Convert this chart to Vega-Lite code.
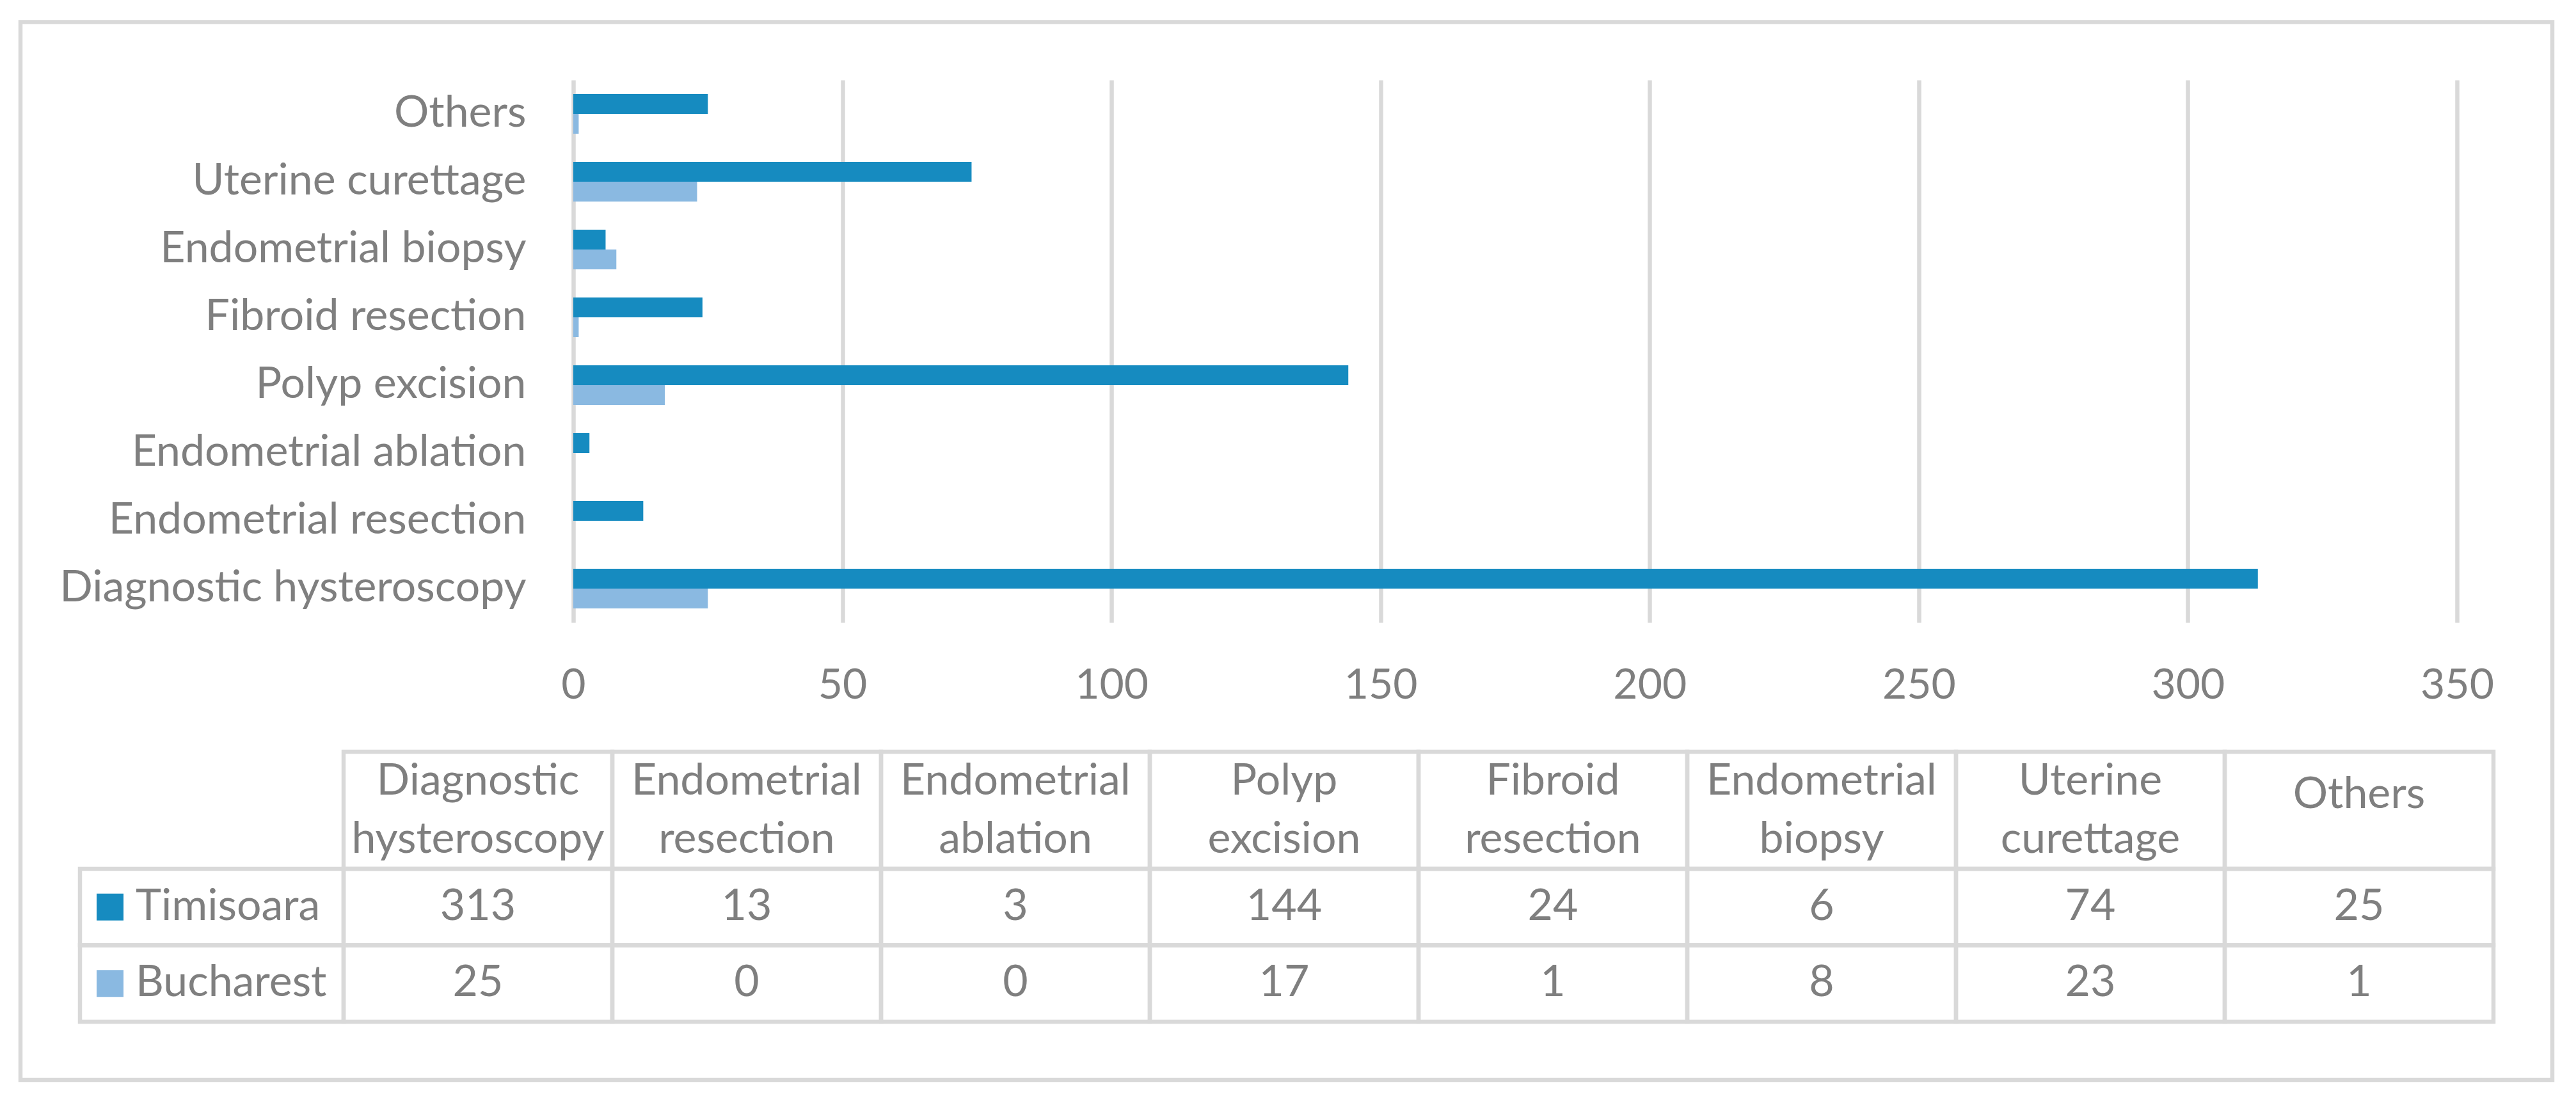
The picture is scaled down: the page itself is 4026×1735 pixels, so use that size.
{
  "$schema": "https://vega.github.io/schema/vega-lite/v6.json",
  "width": 2944,
  "height": 848,
  "autosize": {"type": "none"},
  "padding": {"left": 896, "top": 125, "right": 186, "bottom": 762},
  "background": "white",
  "config": {"view": {"stroke": null}, "font": "Lato"},
  "data": {
    "values": [
      {"category": "Diagnostic hysteroscopy", "city": "Timisoara", "value": 313},
      {"category": "Diagnostic hysteroscopy", "city": "Bucharest", "value": 25},
      {"category": "Endometrial resection", "city": "Timisoara", "value": 13},
      {"category": "Endometrial resection", "city": "Bucharest", "value": 0},
      {"category": "Endometrial ablation", "city": "Timisoara", "value": 3},
      {"category": "Endometrial ablation", "city": "Bucharest", "value": 0},
      {"category": "Polyp excision", "city": "Timisoara", "value": 144},
      {"category": "Polyp excision", "city": "Bucharest", "value": 17},
      {"category": "Fibroid resection", "city": "Timisoara", "value": 24},
      {"category": "Fibroid resection", "city": "Bucharest", "value": 1},
      {"category": "Endometrial biopsy", "city": "Timisoara", "value": 6},
      {"category": "Endometrial biopsy", "city": "Bucharest", "value": 8},
      {"category": "Uterine curettage", "city": "Timisoara", "value": 74},
      {"category": "Uterine curettage", "city": "Bucharest", "value": 23},
      {"category": "Others", "city": "Timisoara", "value": 25},
      {"category": "Others", "city": "Bucharest", "value": 1}
    ]
  },
  "resolve": {"scale": {"x": "independent", "y": "independent"}},
  "layer": [
    {
      "data": {"values": [{"frame": "outer"}]},
      "mark": {"type": "rect", "filled": false, "stroke": "#D9D9D9", "strokeWidth": 6.5},
      "encoding": {
        "x": {"datum": 0, "type": "quantitative", "scale": {"domain": [0, 1], "range": [-864, 3093], "nice": false, "zero": false}, "axis": null},
        "x2": {"datum": 1},
        "y": {"datum": 0, "type": "quantitative", "scale": {"domain": [0, 1], "range": [-90.5, 1563], "nice": false, "zero": false}, "axis": null},
        "y2": {"datum": 1}
      }
    },
    {
      "mark": {"type": "bar"},
      "encoding": {
        "y": {
          "field": "category", "type": "nominal",
          "scale": {"domain": ["Others", "Uterine curettage", "Endometrial biopsy", "Fibroid resection", "Polyp excision", "Endometrial ablation", "Endometrial resection", "Diagnostic hysteroscopy"], "paddingInner": 0.415, "paddingOuter": 0.2075},
          "axis": {"title": null, "ticks": false, "domain": false, "labelPadding": 74, "labelFontSize": 68, "labelColor": "#7F7F7F", "labelFont": "Lato", "labelLimit": 0}
        },
        "yOffset": {"field": "city", "type": "nominal", "scale": {"domain": ["Timisoara", "Bucharest"], "paddingInner": 0, "paddingOuter": 0}},
        "x": {
          "field": "value", "type": "quantitative",
          "scale": {"domain": [0, 350], "nice": false},
          "axis": {"title": null, "values": [0, 50, 100, 150, 200, 250, 300, 350], "grid": true, "gridColor": "#D9D9D9", "gridWidth": 6.5, "ticks": false, "domain": false, "labelFontSize": 66, "labelColor": "#7F7F7F", "labelFont": "Lato", "labelPadding": 66, "labelFlush": false}
        },
        "color": {"field": "city", "type": "nominal", "scale": {"domain": ["Timisoara", "Bucharest"], "range": ["#168BC0", "#8AB9E1"]}, "legend": null}
      }
    },
    {
      "mark": {"type": "rect", "filled": false, "stroke": "#D9D9D9", "strokeWidth": 6.5},
      "encoding": {
        "x": {"field": "category", "type": "nominal", "scale": {"domain": ["Diagnostic hysteroscopy", "Endometrial resection", "Endometrial ablation", "Polyp excision", "Fibroid resection", "Endometrial biopsy", "Uterine curettage", "Others"], "range": [-359, 3001], "paddingInner": 0, "paddingOuter": 0}, "axis": null},
        "y": {"field": "city", "type": "nominal", "scale": {"domain": ["Timisoara", "Bucharest"], "range": [1233, 1472], "paddingInner": 0, "paddingOuter": 0}, "axis": null}
      }
    },
    {
      "mark": {"type": "text", "fontSize": 68, "font": "Lato", "color": "#7F7F7F", "align": "center", "baseline": "middle"},
      "encoding": {
        "x": {"field": "category", "type": "nominal", "scale": {"domain": ["Diagnostic hysteroscopy", "Endometrial resection", "Endometrial ablation", "Polyp excision", "Fibroid resection", "Endometrial biopsy", "Uterine curettage", "Others"], "range": [-359, 3001], "paddingInner": 0, "paddingOuter": 0}, "axis": null},
        "y": {"field": "city", "type": "nominal", "scale": {"domain": ["Timisoara", "Bucharest"], "range": [1233, 1472], "paddingInner": 0, "paddingOuter": 0}, "axis": null},
        "text": {"field": "value", "type": "quantitative"}
      }
    },
    {
      "transform": [{"filter": "datum.city == 'Timisoara'"}],
      "mark": {"type": "rect", "filled": false, "stroke": "#D9D9D9", "strokeWidth": 6.5},
      "encoding": {
        "x": {"field": "category", "type": "nominal", "scale": {"domain": ["Diagnostic hysteroscopy", "Endometrial resection", "Endometrial ablation", "Polyp excision", "Fibroid resection", "Endometrial biopsy", "Uterine curettage", "Others"], "range": [-359, 3001], "paddingInner": 0, "paddingOuter": 0}, "axis": null},
        "y": {"datum": "header", "type": "nominal", "scale": {"domain": ["header"], "range": [1050, 1233], "paddingInner": 0, "paddingOuter": 0}, "axis": null}
      }
    },
    {
      "transform": [{"filter": "datum.city == 'Timisoara' && datum.category != 'Others'"}],
      "mark": {"type": "text", "fontSize": 68, "font": "Lato", "color": "#7F7F7F", "align": "center", "baseline": "middle", "lineBreak": " ", "lineHeight": 91, "dy": -45},
      "encoding": {
        "x": {"field": "category", "type": "nominal", "scale": {"domain": ["Diagnostic hysteroscopy", "Endometrial resection", "Endometrial ablation", "Polyp excision", "Fibroid resection", "Endometrial biopsy", "Uterine curettage", "Others"], "range": [-359, 3001], "paddingInner": 0, "paddingOuter": 0}, "axis": null},
        "y": {"datum": "header", "type": "nominal", "scale": {"domain": ["header"], "range": [1050, 1233], "paddingInner": 0, "paddingOuter": 0}, "axis": null},
        "text": {"field": "category", "type": "nominal"}
      }
    },
    {
      "transform": [{"filter": "datum.city == 'Timisoara' && datum.category == 'Others'"}],
      "mark": {"type": "text", "fontSize": 68, "font": "Lato", "color": "#7F7F7F", "align": "center", "baseline": "middle", "dy": -24},
      "encoding": {
        "x": {"field": "category", "type": "nominal", "scale": {"domain": ["Diagnostic hysteroscopy", "Endometrial resection", "Endometrial ablation", "Polyp excision", "Fibroid resection", "Endometrial biopsy", "Uterine curettage", "Others"], "range": [-359, 3001], "paddingInner": 0, "paddingOuter": 0}, "axis": null},
        "y": {"datum": "header", "type": "nominal", "scale": {"domain": ["header"], "range": [1050, 1233], "paddingInner": 0, "paddingOuter": 0}, "axis": null},
        "text": {"field": "category", "type": "nominal"}
      }
    },
    {
      "transform": [{"filter": "datum.category == 'Others'"}],
      "mark": {"type": "rect", "filled": false, "stroke": "#D9D9D9", "strokeWidth": 6.5},
      "encoding": {
        "x": {"datum": "legend", "type": "nominal", "scale": {"domain": ["legend"], "range": [-771, -359], "paddingInner": 0, "paddingOuter": 0}, "axis": null},
        "y": {"field": "city", "type": "nominal", "scale": {"domain": ["Timisoara", "Bucharest"], "range": [1233, 1472], "paddingInner": 0, "paddingOuter": 0}, "axis": null}
      }
    },
    {
      "transform": [{"filter": "datum.category == 'Others'"}],
      "mark": {"type": "point", "shape": "square", "filled": true, "size": 1764, "opacity": 1, "strokeWidth": 0},
      "encoding": {
        "x": {"datum": "swatch", "type": "nominal", "scale": {"domain": ["swatch"], "range": [-745, -703], "paddingInner": 0, "paddingOuter": 0}, "axis": null},
        "y": {"field": "city", "type": "nominal", "scale": {"domain": ["Timisoara", "Bucharest"], "range": [1233, 1472], "paddingInner": 0, "paddingOuter": 0}, "axis": null},
        "color": {"field": "city", "type": "nominal", "legend": null}
      }
    },
    {
      "transform": [{"filter": "datum.category == 'Others'"}],
      "mark": {"type": "text", "fontSize": 68, "font": "Lato", "color": "#7F7F7F", "align": "left", "baseline": "middle", "dx": -119},
      "encoding": {
        "x": {"datum": "legend", "type": "nominal", "scale": {"domain": ["legend"], "range": [-771, -359], "paddingInner": 0, "paddingOuter": 0}, "axis": null},
        "y": {"field": "city", "type": "nominal", "scale": {"domain": ["Timisoara", "Bucharest"], "range": [1233, 1472], "paddingInner": 0, "paddingOuter": 0}, "axis": null},
        "text": {"field": "city", "type": "nominal"}
      }
    }
  ]
}
